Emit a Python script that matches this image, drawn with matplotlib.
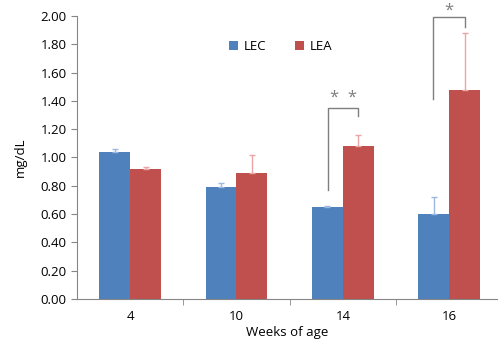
import matplotlib.pyplot as plt
import numpy as np

# Dados
semanas = ['4', '10', '14', '16']
lec = [1.04, 0.79, 0.65, 0.60]
lea = [0.92, 0.89, 1.08, 1.48]
lec_err = [0.02, 0.03, 0.01, 0.12]
lea_err = [0.01, 0.13, 0.08, 0.40]

cor_lec = '#4F81BD'
cor_lea = '#C0504D'

plt.rcParams['font.family'] = ['Open Sans', 'DejaVu Sans']

fig = plt.figure(figsize=(5, 3.45), dpi=100)
ax = fig.add_axes([0.154, 0.133, 0.84, 0.821])

x = np.arange(len(semanas))
w = 0.29
ax.bar(x - w/2, lec, w, color=cor_lec, label='LEC',
       yerr=[np.zeros(4), lec_err], ecolor='#9DB8DE', error_kw=dict(elinewidth=1, capsize=2))
ax.bar(x + w/2, lea, w, color=cor_lea, label='LEA',
       yerr=[np.zeros(4), lea_err], ecolor='#EBA5A5', error_kw=dict(elinewidth=1, capsize=2))

# Colchetes de significância
def colchete(x1, x2, y1, ytop, y2, texto, ytexto):
    ax.plot([x1, x1, x2, x2], [y1, ytop, ytop, y2], color='#7F7F7F', lw=1, clip_on=False)
    ax.text((x1 + x2) / 2, ytexto, texto, ha='center', va='center', color='#7F7F7F',
            fontsize=12, clip_on=False)

colchete(2 - w/2 + 0.01, 2 + w/2, 0.77, 1.35, 1.29, '*  *', 1.42)
colchete(3 - w/2 - 0.01, 3 + w/2, 1.41, 1.99, 1.92, '*', 2.04)

ax.set_xlim(-0.5, 3.45)
ax.set_ylim(0, 2.0)
ax.set_yticks(np.arange(0, 2.01, 0.2))
ax.set_yticklabels(['%.2f' % v for v in np.arange(0, 2.01, 0.2)], fontsize=9.5)
ax.set_xticks(x)
ax.set_xticklabels(semanas, fontsize=9.5)
ax.set_xticks([0.5, 1.5, 2.5], minor=True)
ax.tick_params(axis='x', which='major', length=0, pad=8)
ax.tick_params(axis='x', which='minor', length=4, color='#868686', direction='out')
ax.tick_params(axis='y', length=4, color='#868686', direction='out')

for s in ['top', 'right']:
    ax.spines[s].set_visible(False)
for s in ['left', 'bottom']:
    ax.spines[s].set_color('#868686')

ax.set_ylabel('mg/dL', fontsize=9.5, labelpad=10)
ax.set_xlabel('Weeks of age', fontsize=9.5, labelpad=2)

ax.legend(loc='upper center', bbox_to_anchor=(0.485, 0.955), ncol=2, frameon=False,
          fontsize=9.5, handlelength=0.7, handleheight=0.7, columnspacing=2.2, handletextpad=0.4)

fig.savefig('out.png', dpi=100)
